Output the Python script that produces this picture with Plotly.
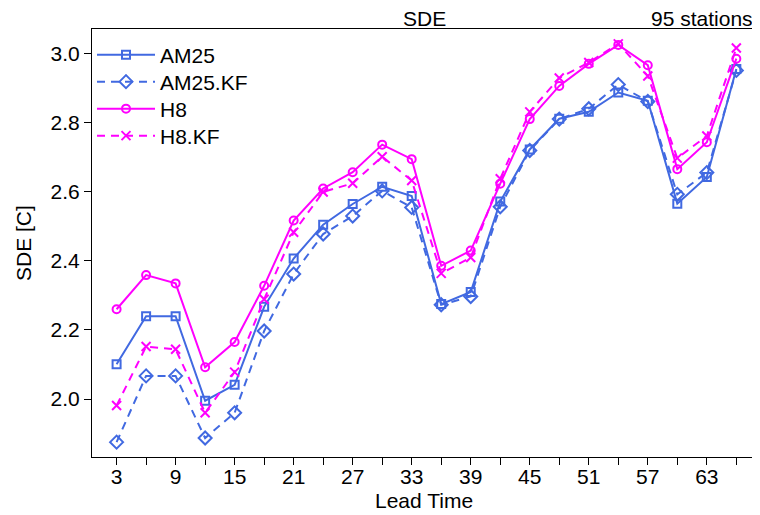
import plotly.graph_objects as go

lead_time = [3, 6, 9, 12, 15, 18, 21, 24, 27, 30, 33, 36, 39, 42, 45, 48, 51, 54, 57, 60, 63, 66]

am25 = [2.101, 2.240, 2.240, 1.995, 2.041, 2.267, 2.407, 2.505, 2.565, 2.615, 2.588,
        2.275, 2.310, 2.572, 2.723, 2.812, 2.832, 2.888, 2.864, 2.566, 2.643, 2.956]
am25_kf = [1.875, 2.067, 2.067, 1.887, 1.960, 2.197, 2.362, 2.478, 2.530, 2.603, 2.555,
           2.273, 2.297, 2.557, 2.720, 2.811, 2.841, 2.911, 2.862, 2.593, 2.656, 2.952]
h8 = [2.260, 2.359, 2.335, 2.092, 2.165, 2.328, 2.517, 2.610, 2.657, 2.737, 2.695,
      2.386, 2.430, 2.624, 2.811, 2.907, 2.971, 3.026, 2.967, 2.666, 2.744, 2.986]
h8_kf = [1.981, 2.152, 2.144, 1.960, 2.078, 2.289, 2.483, 2.600, 2.625, 2.702, 2.633,
         2.364, 2.410, 2.638, 2.832, 2.930, 2.975, 3.029, 2.936, 2.698, 2.762, 3.017]

x_ticks = [3, 6, 9, 12, 15, 18, 21, 24, 27, 30, 33, 36, 39, 42, 45, 48, 51, 54, 57, 60, 63, 66]
x_labels = ["3", "", "9", "", "15", "", "21", "", "27", "", "33", "", "39", "", "45", "",
            "51", "", "57", "", "63", ""]
y_ticks = [2.0, 2.2, 2.4, 2.6, 2.8, 3.0]
y_labels = ["2.0", "2.2", "2.4", "2.6", "2.8", "3.0"]

BLUE = "#4169E1"
MAG = "#FF00FF"
FONT = "Liberation Sans, Arial, sans-serif"
FS = 21

series = [
    ("AM25", am25, BLUE, "solid", "square-open", 8, "legend"),
    ("AM25.KF", am25_kf, BLUE, "8px,6px", "diamond-open", 10, "legend2"),
    ("H8", h8, MAG, "solid", "circle-open", 8, "legend3"),
    ("H8.KF", h8_kf, MAG, "8px,6px", "x-thin-open", 9, "legend4"),
]

fig = go.Figure()
for name, vals, col, dash, sym, sz, lg in series:
    fig.add_trace(go.Scatter(
        x=lead_time, y=vals, name=name, mode="lines+markers", legend=lg,
        line=dict(color=col, width=2, dash=dash),
        marker=dict(symbol=sym, size=sz, color=col, line=dict(color=col, width=2)),
    ))

# plot area height in px = 507 - 21 - 58 = 428
def leg(ycenter):
    return dict(x=0.0, y=1 - (ycenter - 21) / 428.0, xanchor="left", yanchor="middle",
                bgcolor="rgba(0,0,0,0)", font=dict(size=FS), itemwidth=58)

fig.update_layout(
    width=752, height=507,
    margin=dict(l=84, r=4, t=21, b=58, autoexpand=False),
    paper_bgcolor="white", plot_bgcolor="white",
    font=dict(family=FONT, size=FS, color="black"),
    showlegend=True,
    legend=leg(47), legend2=leg(74), legend3=leg(101), legend4=leg(128),
    annotations=[
        dict(text="SDE", xref="paper", yref="paper", x=0.5, y=1.0,
             xanchor="center", yanchor="middle", showarrow=False,
             font=dict(size=FS), yshift=11),
        dict(text="95 stations", xref="paper", yref="paper", x=1.0, y=1.0,
             xanchor="right", yanchor="middle", showarrow=False,
             font=dict(size=FS), yshift=11, xshift=-1),
        dict(text="Lead Time", xref="paper", yref="paper", x=0.5, y=0.0,
             xanchor="center", yanchor="middle", showarrow=False,
             font=dict(size=FS), yshift=-43),
        dict(text="SDE [C]", xref="paper", yref="paper", x=0.0, y=0.5,
             xanchor="center", yanchor="middle", showarrow=False, textangle=-90,
             font=dict(size=FS), xshift=-69),
    ],
)

fig.update_xaxes(
    range=[0.5, 68.0], tickmode="array", tickvals=x_ticks, ticktext=x_labels,
    ticks="outside", ticklen=7, tickwidth=1, tickcolor="black",
    showline=True, linecolor="black", linewidth=1, mirror=True,
    showgrid=False, zeroline=False, automargin=False,
    ticklabelstandoff=-6,
    tickfont=dict(size=FS),
)
fig.update_yaxes(
    range=[1.832, 3.072], tickmode="array", tickvals=y_ticks, ticktext=y_labels,
    ticks="outside", ticklen=7, tickwidth=1, tickcolor="black",
    showline=True, linecolor="black", linewidth=1, mirror=True,
    showgrid=False, zeroline=False, automargin=False,
    tickfont=dict(size=FS),
)

fig.write_html("out.html")
